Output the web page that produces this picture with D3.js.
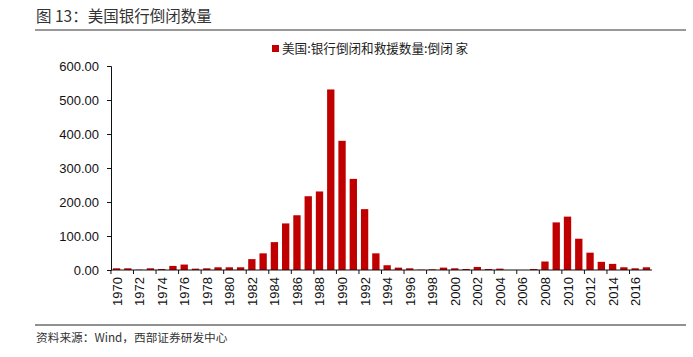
<!DOCTYPE html>
<html>
<head>
<meta charset="utf-8">
<script src="https://cdn.jsdelivr.net/npm/d3@7"></script>
<style>
  html, body { margin: 0; padding: 0; background: #fff; }
  svg { display: block; }
</style>
</head>
<body>
<svg id="chart" width="693" height="357"></svg>
<script>
const years = d3.range(1970, 2018).map(String);
const failures = [5, 5, 1, 5, 3, 12, 16, 4, 5, 8, 8, 8, 32, 49, 82, 137, 161, 217, 231, 531,
  380, 268, 179, 49, 14, 7, 5, 1, 2, 7, 5, 3, 9, 3, 4, 0, 0, 3, 25, 140,
  157, 92, 51, 24, 18, 8, 5, 8];
const yTicks = [0, 100, 200, 300, 400, 500, 600];
const xTickLabels = years.filter((d, i) => i % 2 === 0);
const titleText = "图 13：美国银行倒闭数量";
const legendText = "美国:银行倒闭和救援数量:倒闭 家";
const sourceText = "资料来源：Wind，西部证券研发中心";

const svg = d3.select("#chart");
const cjk = "'Noto Sans CJK SC', 'Noto Sans', sans-serif";
const latin = "'Liberation Sans', Arial, sans-serif";

// Title
svg.append("text").attr("x", 36).attr("y", 22)
  .attr("font-family", cjk).attr("font-size", 15.5).attr("fill", "#333")
  .text(titleText);
svg.append("line").attr("x1", 35).attr("x2", 686).attr("y1", 30).attr("y2", 30)
  .attr("stroke", "#777").attr("stroke-width", 1.5);

// Scales
const x = d3.scaleBand().domain(years).range([111, 652]).paddingInner(0.35).paddingOuter(0.17);
const y = d3.scaleLinear().domain([0, 600]).range([270, 66]);

// Bars
svg.append("g").selectAll("rect").data(years).join("rect")
  .attr("x", d => x(d))
  .attr("width", x.bandwidth())
  .attr("y", (d, i) => y(failures[i]))
  .attr("height", (d, i) => y(0) - y(failures[i]))
  .attr("fill", "#c00000");

// Y axis
const yAxis = svg.append("g").attr("transform", "translate(111,0)")
  .call(d3.axisLeft(y).tickValues(yTicks).tickFormat(d3.format(".2f")).tickSize(4).tickPadding(8));
yAxis.selectAll("text").attr("font-family", latin).attr("font-size", 13).attr("fill", "#111");
yAxis.selectAll("line, path").attr("stroke", "#111");

// X axis: ticks at category boundaries every 2 years, labels centered on bars
const xg = svg.append("g").attr("transform", "translate(0,270)");
xg.append("line").attr("x1", 111).attr("x2", 652).attr("stroke", "#111");
const step = x.step();
xg.selectAll("line.tick").data(xTickLabels).join("line")
  .attr("class", "tick")
  .attr("x1", d => x(d) - (step - x.bandwidth()) / 2)
  .attr("x2", d => x(d) - (step - x.bandwidth()) / 2)
  .attr("y1", 0).attr("y2", 4).attr("stroke", "#111");
xg.selectAll("text").data(xTickLabels).join("text")
  .attr("transform", d => `translate(${x(d) + x.bandwidth() / 2 + 5},7) rotate(-90)`)
  .attr("text-anchor", "end")
  .attr("font-family", latin).attr("font-size", 13).attr("fill", "#111")
  .text(d => d);

// Legend
svg.append("rect").attr("x", 272).attr("y", 45).attr("width", 7).attr("height", 7).attr("fill", "#c00000");
svg.append("text").attr("x", 282).attr("y", 53)
  .attr("font-family", cjk).attr("font-size", 12.6).attr("fill", "#222")
  .text(legendText);

// Footer
svg.append("line").attr("x1", 35).attr("x2", 686).attr("y1", 325).attr("y2", 325)
  .attr("stroke", "#222").attr("stroke-width", 1);
svg.append("text").attr("x", 36).attr("y", 342)
  .attr("font-family", cjk).attr("font-size", 11.7).attr("fill", "#333")
  .text(sourceText);
</script>
</body>
</html>
